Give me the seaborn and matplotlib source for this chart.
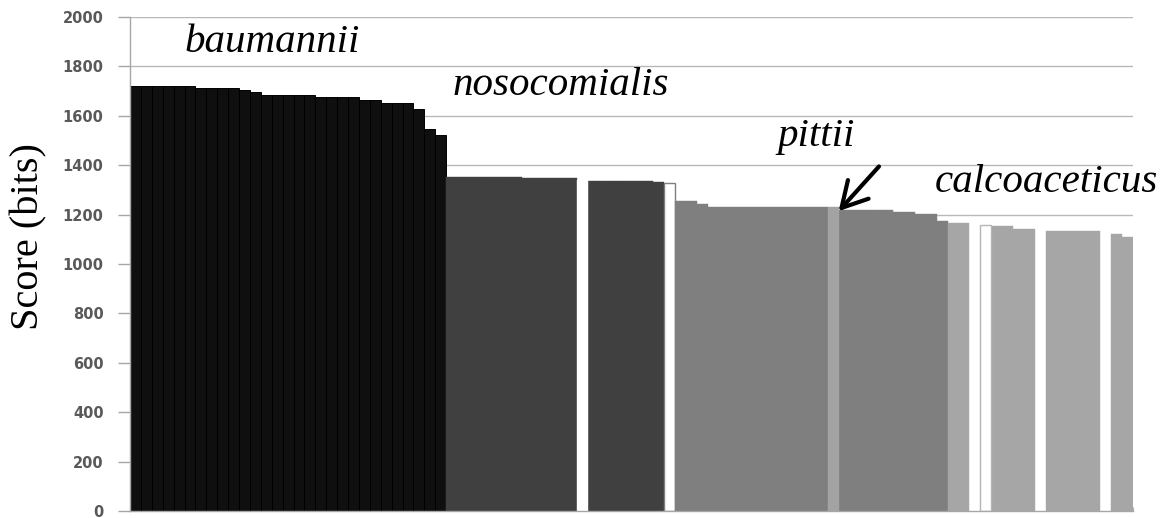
import matplotlib
matplotlib.use('Agg')
import matplotlib.pyplot as plt
import seaborn as sns
import pandas as pd

# ---- data ----
baumannii_scores = [1722, 1722, 1722, 1722, 1722, 1722, 1712, 1712, 1712, 1712,
                    1703, 1695, 1685, 1685, 1685, 1685, 1685, 1675, 1675, 1675,
                    1675, 1663, 1663, 1652, 1652, 1652, 1628, 1548, 1521]
nosocomialis_a = [1353, 1353, 1353, 1353, 1353, 1353, 1353, 1347, 1347, 1347, 1347, 1347]
gap_1 = [1340]
nosocomialis_b = [1336, 1336, 1336, 1336, 1336, 1336, 1332]
outlined_1 = [1327]
pittii_a = [1255, 1255, 1242, 1229, 1229, 1229, 1229, 1229, 1229, 1229, 1229, 1229, 1229, 1229]
highlight_1 = [1229]
pittii_b = [1218, 1218, 1218, 1218, 1218, 1211, 1211, 1204, 1204, 1175]
calco_a = [1165, 1165]
gap_2 = [1160]
outlined_2 = [1158]
calco_b = [1155, 1155, 1141, 1141]
gap_3 = [1137]
calco_c = [1132, 1132, 1132, 1132, 1132]
gap_4 = [1126]
calco_d = [1121, 1108]

segments = [
    ('baumannii', baumannii_scores),
    ('nosocomialis', nosocomialis_a),
    ('gap', gap_1),
    ('nosocomialis', nosocomialis_b),
    ('outlined', outlined_1),
    ('pittii', pittii_a),
    ('highlight', highlight_1),
    ('pittii', pittii_b),
    ('calcoaceticus', calco_a),
    ('gap', gap_2),
    ('outlined_light', outlined_2),
    ('calcoaceticus', calco_b),
    ('gap', gap_3),
    ('calcoaceticus', calco_c),
    ('gap', gap_4),
    ('calcoaceticus', calco_d),
]

species_labels = ['baumannii', 'nosocomialis', 'pittii', 'calcoaceticus']
y_ticks = [0, 200, 400, 600, 800, 1000, 1200, 1400, 1600, 1800, 2000]

# ---- build table ----
groups, scores = [], []
for g, vals in segments:
    for v in vals:
        groups.append(g)
        scores.append(v)
df = pd.DataFrame({'pos': list(range(len(scores))), 'score': scores, 'group': groups})

palette = {
    'baumannii': '#0f0f0f',
    'nosocomialis': '#404040',
    'gap': '#ffffff',
    'outlined': '#ffffff',
    'outlined_light': '#ffffff',
    'pittii': '#7f7f7f',
    'highlight': '#a3a3a3',
    'calcoaceticus': '#a6a6a6',
}
edge_styles = {
    'baumannii': ('#000000', 0.7),
    'outlined': ('#7f7f7f', 1.0),
    'outlined_light': ('#b5b5b5', 1.0),
}

sns.set_theme(style='white')
plt.rcParams['font.family'] = ['DejaVu Sans']

fig = plt.figure(figsize=(11.68, 5.18), dpi=100)
ax = fig.add_axes([130 / 1168, 7 / 518, 1003 / 1168, 494 / 518])

sns.barplot(data=df, x='pos', y='score', hue='group', palette=palette,
            dodge=False, width=1.0, saturation=1, legend=False, ax=ax,
            order=list(range(len(scores))))

# per-bar edges
for p in ax.patches:
    idx = int(round(p.get_x() + p.get_width() / 2))
    if idx < 0 or idx >= len(groups):
        continue
    g = groups[idx]
    ec, lw = edge_styles.get(g, (palette[g], 0.3))
    p.set_edgecolor(ec)
    p.set_linewidth(lw)

n = len(scores)
ax.set_xlim(-0.5, n - 0.5)
ax.set_ylim(0, 2000)
ax.set_yticks(y_ticks)
ax.set_yticklabels([str(t) for t in y_ticks], fontsize=10.5, fontweight='bold', color='#595959')
ax.set_xticks([])
ax.set_xticks([i - 0.5 for i in range(n + 1)], minor=True)
ax.tick_params(axis='x', which='minor', direction='in', length=3, width=0.8, color='#b0b0b0', bottom=True)
ax.tick_params(axis='y', which='major', direction='out', length=9, width=1, color='#a6a6a6', pad=10, left=True)
ax.set_xlabel('')

ax.yaxis.grid(True, color='#b8b8b8', linewidth=1.0)
ax.xaxis.grid(False)
ax.set_axisbelow(True)
for s in ['top', 'right']:
    ax.spines[s].set_visible(False)
for s in ['left', 'bottom']:
    ax.spines[s].set_color('#a6a6a6')
    ax.spines[s].set_linewidth(1.0)

ax.set_ylabel('Score (bits)', family='Liberation Serif', fontsize=29, color='black', va='center')
ax.yaxis.set_label_coords(-0.1007, 0.556)

label_x = [12.5, 39.0, 62.4, 83.6]
label_y = [1859, 1685, 1476, 1290]
for lab, lx, ly in zip(species_labels, label_x, label_y):
    ax.text(lx, ly, lab, family='Liberation Serif', style='italic', fontsize=29.5,
            ha='center', va='baseline', color='black')

ax.annotate('', xy=(64.5, 1214), xytext=(68.2, 1395),
            arrowprops=dict(arrowstyle='->, head_length=0.9, head_width=0.5',
                            color='black', lw=3, mutation_scale=20, shrinkA=0, shrinkB=0))

fig.savefig('out.png', dpi=100)
